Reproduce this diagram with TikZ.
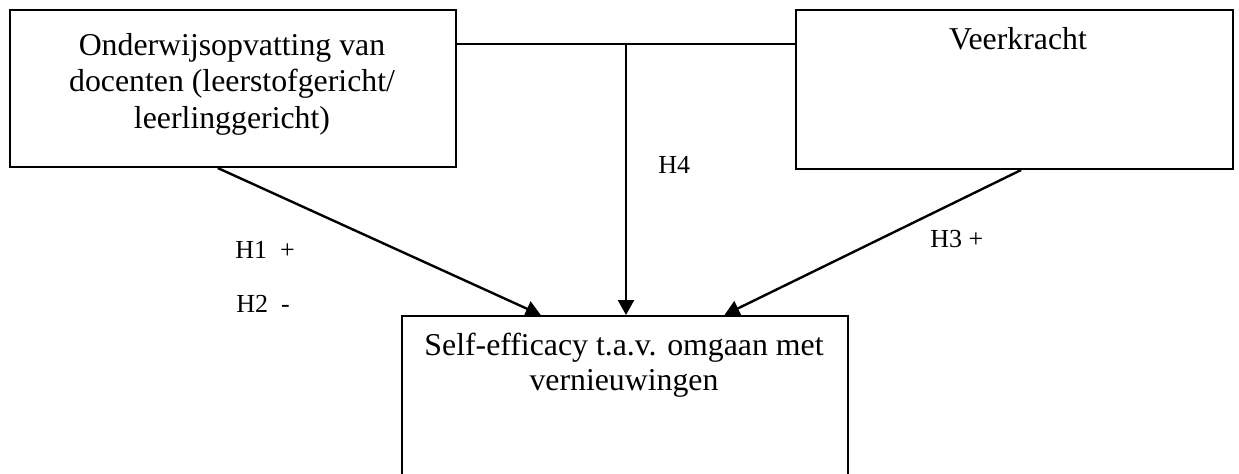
\documentclass[tikz,border=0pt]{standalone}
\usepackage{fontspec}
\setmainfont{Liberation Serif}
\usetikzlibrary{arrows.meta,calc}
\begin{document}
\begin{tikzpicture}[x=0.5pt,y=-0.5pt,
  box/.style={draw,line width=1pt,inner sep=0pt,anchor=north west},
  boxtext/.style={inner sep=0pt,anchor=base,align=center,font=\fontsize{15.9}{18.2}\selectfont},
  lbl/.style={inner sep=0pt,anchor=base west,font=\fontsize{13}{15}\selectfont},
  conn/.style={line width=1.2pt},
  arr/.style={conn,-{Triangle[length=7.5pt,width=8pt]}}]
\useasboundingbox (0,0) rectangle (1239,473);
\clip (0,0) rectangle (1239,473);
% boxes
\node[box,minimum width=223pt,minimum height=78.5pt] (L) at (9,9) {};
\node[box,minimum width=218.5pt,minimum height=79.5pt] (R) at (795,9) {};
\node[box,minimum width=223pt,minimum height=100pt] (B) at (401,315) {};
% texts (base = baseline of the last line)
\node[boxtext] (ltext) at (232,128) {Onderwijsopvatting van\\docenten (leerstofgericht/\\leerlinggericht)};
\node[boxtext] (rtext) at (1018,49) {Veerkracht};
\node[boxtext,font=\fontsize{15.9}{17.5}\selectfont] (btext) at (624,390) {Self-efficacy t.a.v. omgaan met\\vernieuwingen};
% connectors
\coordinate (hl) at ([yshift=-17.5pt]L.north east);
\coordinate (hr) at ([yshift=-17.5pt]R.north west);
\draw[conn] (hl) -- (hr);
\coordinate (hm) at ($(hl)!0.5!(hr)$);
\draw[arr] (hm) -- (hm |- B.north);
\draw[arr] ($(L.south west)!0.466!(L.south east)$) -- ($(B.north west)!0.312!(B.north east)$);
\draw[arr] ($(R.south west)!0.515!(R.south east)$) -- ($(B.north west)!0.722!(B.north east)$);
% labels
\node[lbl] (h1) at (235,258) {H1\ \ +};
\node[lbl] (h2) at (236,312) {H2\ \ -};
\node[lbl] (h4) at (658,173) {H4};
\node[lbl] (h3) at (930,247) {H3 +};
\end{tikzpicture}
\end{document}
